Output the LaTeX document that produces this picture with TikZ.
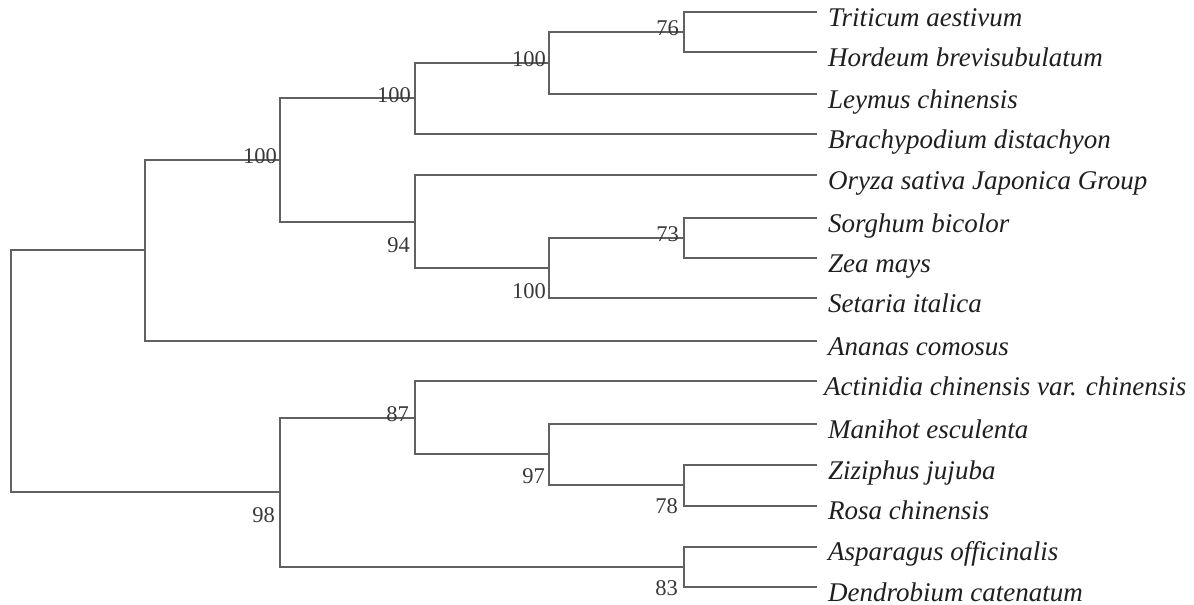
\documentclass[tikz,border=0pt]{standalone}
\usepackage{fontspec}
\setmainfont{Liberation Serif}
\begin{document}
\begin{tikzpicture}[x=1pt,y=-1pt,
  br/.style={draw=black!62, line width=1.1pt},
  taxon/.style={anchor=base west, font=\fontsize{27}{27}\selectfont\itshape, text=black!88, inner sep=0pt, text depth=0pt},
  bs/.style={anchor=base east, font=\fontsize{22.5}{22}\selectfont, text=black!78, inner sep=0pt}]
\useasboundingbox (0,0) rectangle (1194,605);
% leaf ends
\coordinate (l1) at (817,12);
\coordinate (l2) at (817,52);
\coordinate (l3) at (817,94);
\coordinate (l4) at (817,134);
\coordinate (l5) at (817,175);
\coordinate (l6) at (817,218);
\coordinate (l7) at (817,258);
\coordinate (l8) at (817,298);
\coordinate (l9) at (817,341);
\coordinate (l10) at (817,381);
\coordinate (l11) at (817,424);
\coordinate (l12) at (817,465);
\coordinate (l13) at (817,506);
\coordinate (l14) at (817,547);
\coordinate (l15) at (817,587);
% internal nodes
\coordinate (n1) at (684,32);
\coordinate (n2) at (549,63);
\coordinate (n3) at (415,98);
\coordinate (n4) at (684,238);
\coordinate (n5) at (549,268);
\coordinate (n6) at (415,222);
\coordinate (n7) at (280,160);
\coordinate (n8) at (145,250);
\coordinate (n9) at (684,485);
\coordinate (n10) at (549,454);
\coordinate (n11) at (415,418);
\coordinate (n12) at (684,567);
\coordinate (n13) at (280,492);
\coordinate (root) at (11,371);
% branches
\draw[br] (l1) -| (n1) |- (l2);
\draw[br] (n1) -| (n2) |- (l3);
\draw[br] (n2) -| (n3) |- (l4);
\draw[br] (l6) -| (n4) |- (l7);
\draw[br] (n4) -| (n5) |- (l8);
\draw[br] (l5) -| (n6) |- (n5);
\draw[br] (n3) -| (n7) |- (n6);
\draw[br] (n7) -| (n8) |- (l9);
\draw[br] (l12) -| (n9) |- (l13);
\draw[br] (l11) -| (n10) |- (n9);
\draw[br] (l10) -| (n11) |- (n10);
\draw[br] (l14) -| (n12) |- (l15);
\draw[br] (n11) -| (n13) |- (n12);
\draw[br] (n8) -| (root) |- (n13);
% taxa
\node[taxon] (t1) at (828,26) {Triticum aestivum};
\node[taxon] (t2) at (828,66) {Hordeum brevisubulatum};
\node[taxon] (t3) at (828,108) {Leymus chinensis};
\node[taxon] (t4) at (828,148) {Brachypodium distachyon};
\node[taxon] (t5) at (828,189) {Oryza sativa Japonica Group};
\node[taxon] (t6) at (828,232) {Sorghum bicolor};
\node[taxon] (t7) at (828,272) {Zea mays};
\node[taxon] (t8) at (828,312) {Setaria italica};
\node[taxon] (t9) at (828,355) {Ananas comosus};
\node[taxon] (t10) at (824,395) {Actinidia chinensis var. chinensis};
\node[taxon] (t11) at (828,438) {Manihot esculenta};
\node[taxon] (t12) at (828,479) {Ziziphus jujuba};
\node[taxon] (t13) at (828,519) {Rosa chinensis};
\node[taxon] (t14) at (828,560) {Asparagus officinalis};
\node[taxon] (t15) at (828,601) {Dendrobium catenatum};
% bootstrap values
\node[bs] (b1) at (679,35) {76};
\node[bs] (b2) at (546,66) {100};
\node[bs] (b3) at (411,102) {100};
\node[bs] (b4) at (277,163) {100};
\node[bs] (b5) at (679,241) {73};
\node[bs] (b6) at (546,298) {100};
\node[bs] (b7) at (410,252) {94};
\node[bs] (b8) at (409,421) {87};
\node[bs] (b9) at (545,483) {97};
\node[bs] (b10) at (678,513) {78};
\node[bs] (b11) at (678,595) {83};
\node[bs] (b12) at (275,522) {98};
\end{tikzpicture}
\end{document}
